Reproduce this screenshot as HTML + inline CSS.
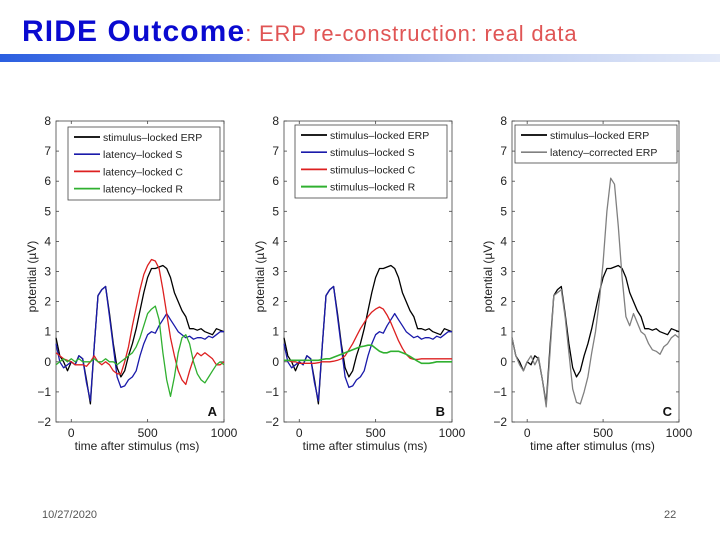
<!DOCTYPE html>
<html><head><meta charset="utf-8">
<style>
body{margin:0;background:#fff;}
#root{position:relative;width:720px;height:540px;overflow:hidden;background:#fff;font-family:"Liberation Sans",sans-serif;}
#title{position:absolute;left:22px;top:15px;white-space:nowrap;}
#t1{font-size:30px;font-weight:bold;color:#0a0ad0;letter-spacing:1.1px;}
#t2{font-size:22px;color:#e05555;letter-spacing:0.8px;}
#bar{position:absolute;left:0;top:54px;width:720px;height:8px;background:linear-gradient(to right,#2a5ee0 0%,#6f90e8 30%,#b8c8f0 65%,#e4eaf8 100%);}
#date{position:absolute;left:42px;top:509px;font-size:11px;color:#555;}
#page{position:absolute;left:664px;top:509px;font-size:11px;color:#555;}
</style></head><body>
<div id="root">
<div id="title"><span id="t1">RIDE Outcome</span><span id="t2">: ERP re-construction: real data</span></div>
<div id="bar"></div>
<svg id="chart" width="720" height="540" style="position:absolute;left:0;top:0"></svg>
<div id="date">10/27/2020</div>
<div id="page">22</div>
</div>
<script>
const times = [-100,-75,-50,-25,0,25,50,75,100,125,150,175,200,225,250,275,300,325,350,375,400,425,450,475,500,525,550,575,600,625,650,675,700,725,750,775,800,825,850,875,900,925,950,975,1000];
const erp = [0.8,0.2,0.0,-0.3,0.0,-0.1,0.2,0.1,-0.6,-1.4,0.5,2.2,2.4,2.5,1.6,0.6,-0.2,-0.5,-0.3,0.2,0.6,1.1,1.7,2.3,2.8,3.1,3.1,3.15,3.2,3.1,2.8,2.3,2.0,1.7,1.5,1.1,1.1,1.05,1.1,1.0,0.95,0.9,1.1,1.05,1.0];
const compS = [0.6,0.0,-0.2,-0.1,0.0,-0.1,0.2,0.1,-0.7,-1.3,0.5,2.2,2.4,2.5,1.5,0.5,-0.5,-0.85,-0.8,-0.6,-0.5,-0.3,0.2,0.6,0.9,1.0,0.95,1.2,1.4,1.6,1.4,1.2,1.0,0.9,0.8,0.85,0.75,0.8,0.8,0.75,0.85,0.8,0.9,1.0,1.0];
const latC = [0.3,0.2,0.1,0.05,0.0,-0.1,-0.1,-0.1,-0.15,0.0,0.2,0.0,-0.1,0.0,-0.1,-0.3,-0.4,-0.4,0.0,0.5,1.2,1.8,2.4,2.9,3.2,3.4,3.35,3.1,2.4,1.6,0.8,0.2,-0.3,-0.6,-0.75,-0.3,0.1,0.3,0.2,0.3,0.2,0.1,-0.1,-0.1,0.0];
const latR = [-0.1,0.0,0.1,0.0,0.1,0.0,0.1,0.0,0.0,0.0,0.1,0.0,0.0,0.1,0.0,0.0,-0.1,0.0,0.1,0.2,0.3,0.5,0.8,1.2,1.6,1.75,1.85,1.4,0.3,-0.6,-1.15,-0.5,0.3,0.8,0.9,0.6,0.0,-0.4,-0.6,-0.7,-0.5,-0.3,-0.1,0.0,-0.1];
const stimC = [0.05,0.05,0.0,0.0,-0.05,-0.05,-0.05,-0.05,-0.05,-0.03,0.0,0.0,0.0,0.02,0.05,0.1,0.2,0.4,0.6,0.85,1.1,1.3,1.5,1.65,1.75,1.82,1.75,1.55,1.3,1.0,0.7,0.45,0.25,0.12,0.08,0.08,0.1,0.1,0.1,0.1,0.1,0.1,0.1,0.1,0.1];
const stimR = [0.05,0.05,0.05,0.05,0.05,0.05,0.05,0.05,0.05,0.05,0.08,0.1,0.1,0.15,0.2,0.25,0.3,0.35,0.4,0.45,0.5,0.52,0.55,0.55,0.45,0.35,0.3,0.3,0.35,0.35,0.35,0.3,0.25,0.18,0.1,0.02,-0.05,-0.05,-0.05,-0.03,0.0,0.0,0.0,0.0,0.0];
const corrected = [0.8,0.2,-0.1,-0.3,0.0,0.2,-0.1,0.15,-0.6,-1.5,0.3,2.2,2.3,2.4,1.5,0.3,-0.9,-1.35,-1.4,-1.0,-0.5,0.3,1.0,2.0,3.3,5.0,6.1,5.9,4.5,2.8,1.5,1.2,1.6,1.3,1.0,0.9,0.6,0.4,0.35,0.25,0.5,0.6,0.8,0.9,0.8];
const yTicks = [-2,-1,0,1,2,3,4,5,6,7,8];
const xTicks = [0,500,1000];
const xTickLabels = ["0","500","1000"];
const legendA = ["stimulus\u2013locked ERP","latency\u2013locked S","latency\u2013locked C","latency\u2013locked R"];
const legendB = ["stimulus\u2013locked ERP","stimulus\u2013locked S","stimulus\u2013locked C","stimulus\u2013locked R"];
const legendC = ["stimulus\u2013locked ERP","latency\u2013corrected ERP"];

const NS="http://www.w3.org/2000/svg";
const svg=document.getElementById('chart');
function mk(tag,attrs,parent){const e=document.createElementNS(NS,tag);for(const k in attrs)e.setAttribute(k,attrs[k]);(parent||svg).appendChild(e);return e;}
const Y0=121,Y1=422;
function yS(v){return Y1-(v+2)/10*(Y1-Y0);}

function panel(key,L,R,series,colors,widths,legend,legBox,letter){
  const xS=t=>L+(t+100)/1100*(R-L);
  const g=mk('g',{});
  
  
  const ax=mk('rect',{x:L,y:Y0,width:R-L,height:Y1-Y0,fill:'#fff',stroke:'#444','stroke-width':0.8},g);
  
  
  yTicks.forEach(v=>{
    const y=yS(v);
    mk('line',{x1:L,x2:L+3,y1:y,y2:y,stroke:'#444','stroke-width':0.8},g);
    mk('line',{x1:R,x2:R-3,y1:y,y2:y,stroke:'#444','stroke-width':0.8},g);
    const t=mk('text',{x:L-5,y:y+4,'text-anchor':'end','font-size':12,fill:'#222'},g);
    t.textContent=(v<0?'\u2212'+(-v):String(v));
    
    
  });
  xTicks.forEach((v,i)=>{
    const x=xS(v);
    mk('line',{x1:x,x2:x,y1:Y1,y2:Y1-3,stroke:'#444','stroke-width':0.8},g);
    mk('line',{x1:x,x2:x,y1:Y0,y2:Y0+3,stroke:'#444','stroke-width':0.8},g);
    const t=mk('text',{x:x,y:Y1+15,'text-anchor':'middle','font-size':12,fill:'#222'},g);
    t.textContent=xTickLabels[i];
    
    
  });
  const xl=mk('text',{x:(L+R)/2-3,y:450,'text-anchor':'middle','font-size':12,fill:'#222'},g);
  xl.textContent='time after stimulus (ms)';
  
  
  const yl=mk('text',{x:0,y:0,'text-anchor':'middle','font-size':12,fill:'#222',transform:`translate(${L-20},${(Y0+Y1)/2+5}) rotate(-90)`},g);
  yl.textContent='potential (\u00b5V)';
  
  
  series.forEach((s,i)=>{
    const d=times.map((t,j)=>(j?'L':'M')+xS(t).toFixed(1)+','+yS(s[j]).toFixed(1)).join(' ');
    const p=mk('path',{d:d,fill:'none',stroke:colors[i],'stroke-width':widths[i],'stroke-linejoin':'round'},g);
    
    
  });
  const lb=mk('rect',{x:legBox[0],y:legBox[1],width:legBox[2],height:legBox[3],fill:'#fff',stroke:'#444','stroke-width':0.8},g);
  
  
  legend.forEach((txt,i)=>{
    const y=legBox[1]+10+i*17.2;
    mk('line',{x1:legBox[0]+6,x2:legBox[0]+32,y1:y,y2:y,stroke:colors[i],'stroke-width':widths[i]+0.4},g);
    const t=mk('text',{x:legBox[0]+35,y:y+4,'font-size':10.5,fill:'#222'},g);
    t.textContent=txt;
    
    
  });
  const lt=mk('text',{x:R-7,y:Y1-6,'text-anchor':'end','font-size':13,'font-weight':'bold',fill:'#111'},g);
  lt.textContent=letter;
  
  
}
panel('a',56,224,[erp,compS,latC,latR],['#000','#1a1aaa','#dd2020','#30b030'],[1.3,1.3,1.3,1.3],legendA,[68,127,152,73],'A');
panel('b',284,452,[erp,compS,stimC,stimR],['#000','#1a1aaa','#dd2020','#30b030'],[1.3,1.3,1.3,1.6],legendB,[295,125,152,73],'B');
panel('c',512,679,[erp,corrected],['#000','#808080'],[1.3,1.3],legendC,[515,125,162,38],'C');
</script>
</body></html>
